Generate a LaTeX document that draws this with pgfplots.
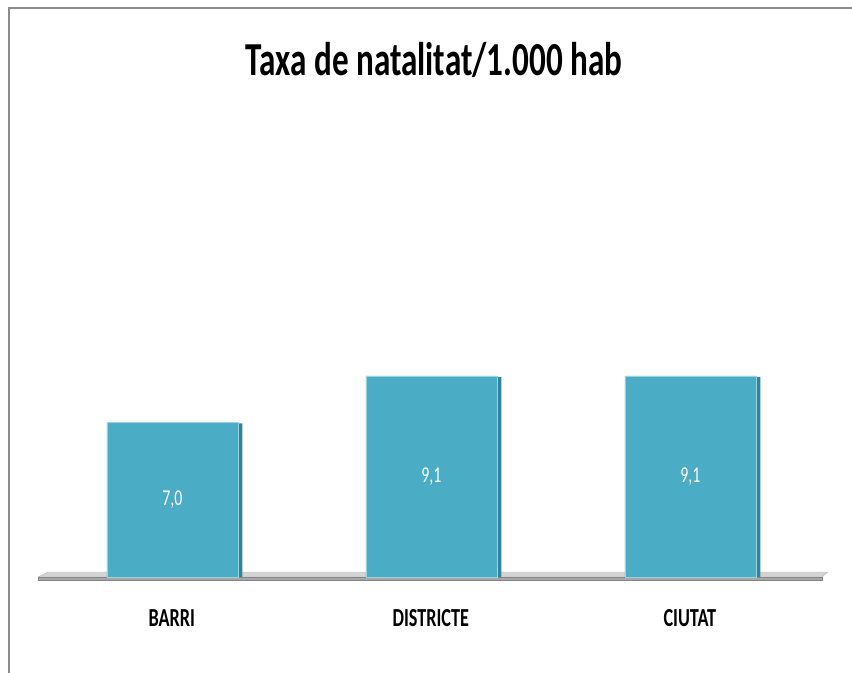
\documentclass[border=0pt]{standalone}
\usepackage{pgfplots}
\pgfplotsset{compat=1.18}
\usepackage{fontspec}
\setmainfont{Carlito}[FakeStretch=0.7]
\definecolor{barc}{HTML}{4BACC6}
\definecolor{bars}{HTML}{31849B}
\definecolor{floortop}{HTML}{D4D4D4}
\definecolor{floorfront}{HTML}{A6A6A6}
\definecolor{frame}{HTML}{8C8C8C}
\begin{document}
\begin{tikzpicture}[x=1pt,y=1pt]
\useasboundingbox (0,0) rectangle (639,504.75);
\draw[frame, line width=1.2pt] (6.75,-2) -- (6.75,498.75) -- (645,498.75);
\node[font=\fontsize{35.5}{40}\selectfont\bfseries] at (325.5,459.75) {Taxa de natalitat/1.000 hab};
\begin{axis}[
  anchor=south west, at={(33.75pt,72pt)},
  scale only axis, width=582.75pt, height=331.5pt,
  xmin=-0.5, xmax=2.5, ymin=0, ymax=20,
  clip=false,
  axis line style={draw=none},
  tick style={draw=none},
  ytick=\empty,
  xtick=data,
  xticklabels={BARRI,DISTRICTE,CIUTAT},
  xticklabel style={font=\fontsize{19.5}{22}\selectfont\bfseries, anchor=base, yshift=-33pt, xshift=-2pt},
  ybar, bar width=98.25pt,
]
\fill[floortop, draw=floorfront!80, line width=0.3pt] (axis cs:-0.527,0) -- (axis cs:-0.488,0.226) -- (axis cs:2.523,0.226) -- (axis cs:2.5,0) -- cycle;
\fill[floorfront, draw=floorfront!80!black, line width=0.3pt] (axis cs:-0.527,0) -- (axis cs:2.5,0) -- (axis cs:2.5,-0.136) -- (axis cs:-0.527,-0.136) -- cycle;
\addplot[fill=bars, draw=none, bar width=3.5pt, bar shift=49.1pt, forget plot] coordinates {(0,6.95) (1,9.05) (2,9.05)};
\addplot[fill=barc, draw=barc!55!white, line width=0.4pt, bar shift=-1.6pt,
  visualization depends on={y/2 \as \half},
  nodes near coords,
  /pgf/number format/assume math mode=true,
  /pgf/number format/fixed, /pgf/number format/fixed zerofill,
  /pgf/number format/precision=1, /pgf/number format/use comma,
  nodes near coords style={white, anchor=center, font=\fontsize{17}{19}\selectfont},
  every node near coord/.append style={shift={(axis direction cs:0,-\half)}},
] coordinates {(0,7.0) (1,9.1) (2,9.1)};
\end{axis}
\end{tikzpicture}
\end{document}
